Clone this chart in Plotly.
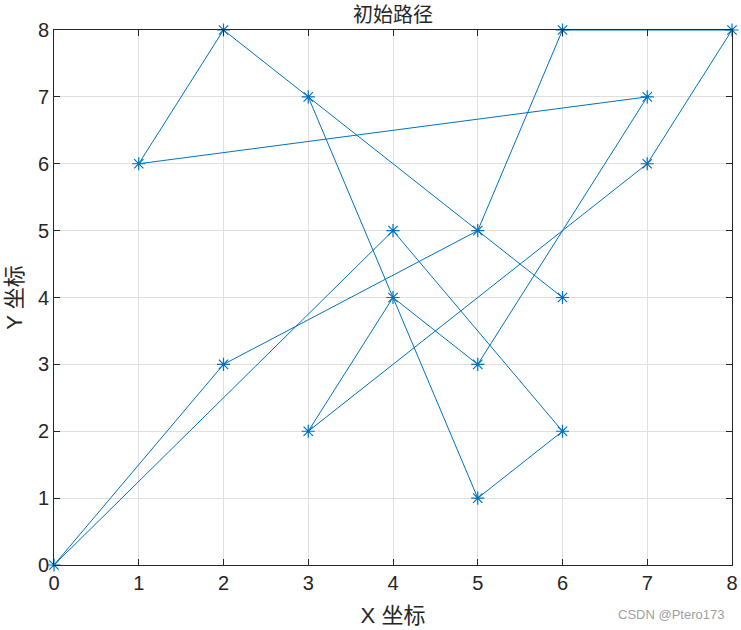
import plotly.graph_objects as go

# path order (initial route)
path_x = [3, 5, 6, 4, 0, 2, 5, 6, 8, 7, 3, 4, 5, 7, 1, 2, 6]
path_y = [7, 1, 2, 5, 0, 3, 5, 8, 8, 6, 2, 4, 3, 7, 6, 8, 4]
tick_vals = [0, 1, 2, 3, 4, 5, 6, 7, 8]

fig = go.Figure()
fig.add_trace(go.Scatter(
    x=path_x, y=path_y, mode="lines+markers",
    line=dict(color="#0072BD", width=1),
    marker=dict(symbol="asterisk-open", size=11, color="#0072BD",
                line=dict(color="#0072BD", width=1.2)),
    cliponaxis=False, showlegend=False,
))

axis_common = dict(
    range=[0, 8], tickvals=tick_vals, showgrid=True, gridcolor="#dfdfdf",
    gridwidth=1, zeroline=False, showline=True, linecolor="#262626",
    linewidth=1, mirror="ticks", ticks="inside", ticklen=6, tickcolor="#262626",
    automargin=False,
    tickfont=dict(family="Liberation Sans, Arial, sans-serif", size=20, color="#262626"),
)

fig.update_layout(
    width=741, height=630,
    margin=dict(l=54, r=9, t=30, b=65),
    paper_bgcolor="white", plot_bgcolor="white",
    title=dict(text="初始路径", x=0.5, xanchor="center", y=1 - 15 / 630, yanchor="middle",
               xref="paper", automargin=False,
               font=dict(family="Noto Sans CJK SC, sans-serif", size=20, color="#262626")),
    xaxis=dict(**axis_common,
               title=dict(text="X 坐标", standoff=14,
                          font=dict(family="Liberation Sans, Noto Sans CJK SC, sans-serif",
                                    size=22, color="#262626"))),
    yaxis=dict(**axis_common,
               title=dict(text="Y 坐标", standoff=9,
                          font=dict(family="Liberation Sans, Noto Sans CJK SC, sans-serif",
                                    size=22, color="#262626"))),
    annotations=[dict(text="CSDN @Ptero173", xref="paper", yref="paper",
                      x=1.0, xshift=-6, y=-0.092, xanchor="right", yanchor="middle",
                      showarrow=False,
                      font=dict(family="Liberation Sans, sans-serif", size=13, color="#a0a0a0"))],
)

fig.write_html("out.html", config={"displayModeBar": False},
               post_script="document.body.style.margin='0';")
